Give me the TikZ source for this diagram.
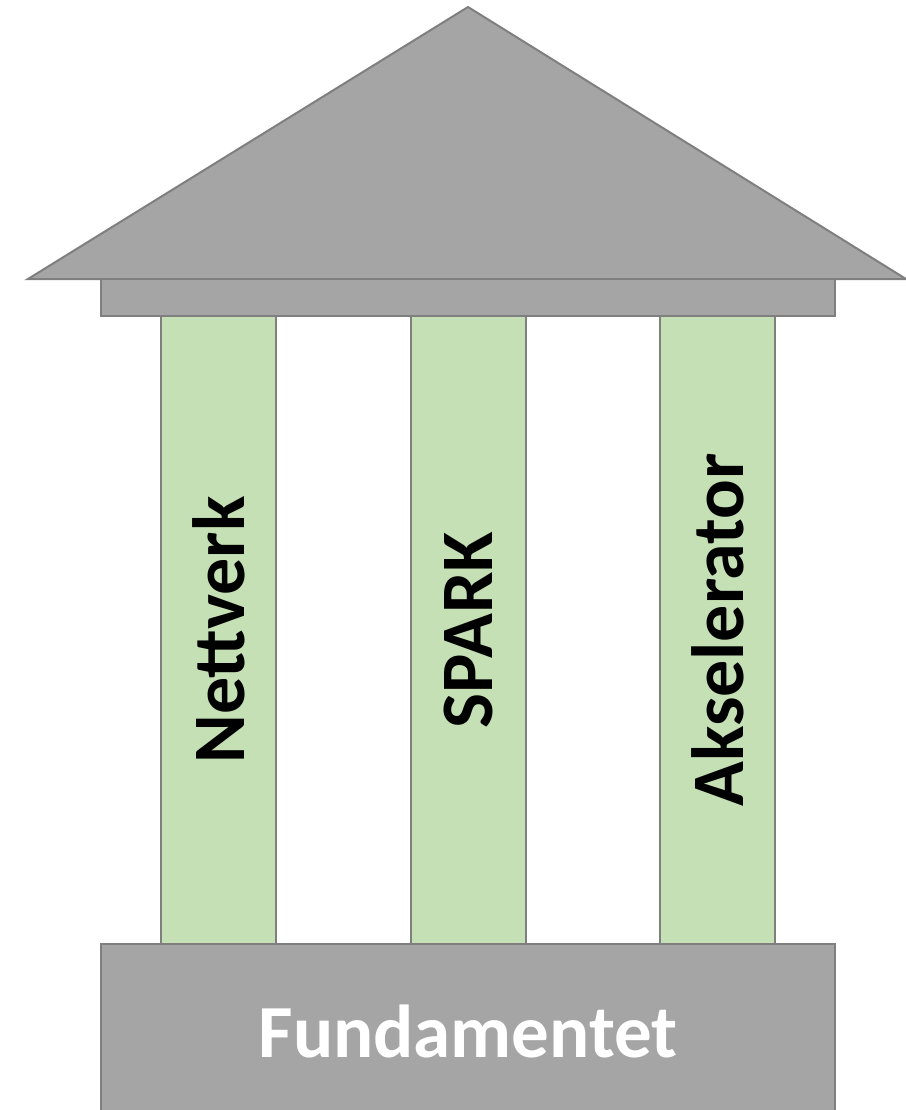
\documentclass[tikz,border=0pt]{standalone}
\usepackage{fontspec}
\setmainfont{Carlito}
\definecolor{roofgray}{HTML}{A5A5A5}
\definecolor{edgegray}{HTML}{7F7F7F}
\definecolor{pillargreen}{HTML}{C5E0B4}

\begin{document}
\begin{tikzpicture}[x=1pt,y=-1pt]

    % Define dimensions (pixels of the drawing, y grows downwards)
    \def\pw{115} % pillar width
    \def\ptop{316} % top of the pillars
    \def\pbot{944} % bottom of the pillars
    \def\bl{101} % left edge of beam and base
    \def\br{835} % right edge of beam and base
    \def\eave{279} % height of the roof eave

    \useasboundingbox (0,0) rectangle (905,1110);

    % --- Roof ---
    \draw[edgegray, fill=roofgray, line width=2pt] (28,\eave) -- (468,7) -- (906,\eave) -- cycle; % Triangle

    % Beam under the roof
    \draw[edgegray, fill=roofgray, line width=2pt] (\bl,\eave) rectangle (\br,\ptop);

    % --- Pillars ---
    \foreach \x/\name/\txt in {161/nett/Nettverk, 411/spark/SPARK, 660/aksel/Akselerator} {
        \draw[edgegray, fill=pillargreen, line width=2pt] (\x,\ptop) rectangle (\x+\pw,\pbot); % Pillar
        \node[rotate=90, font=\bfseries\fontsize{74}{88}\selectfont] (\name) at ({\x+\pw/2}, {(\ptop+\pbot)/2}) {\txt}; % Label
    }

    % --- Base ---
    \draw[edgegray, fill=roofgray, line width=2pt] (\bl,\pbot) rectangle (\br,1116);
    \node[white, font=\bfseries\fontsize{75}{90}\selectfont] (fund) at ({(\bl+\br)/2}, 1031) {Fundamentet};

\end{tikzpicture}
\end{document}
